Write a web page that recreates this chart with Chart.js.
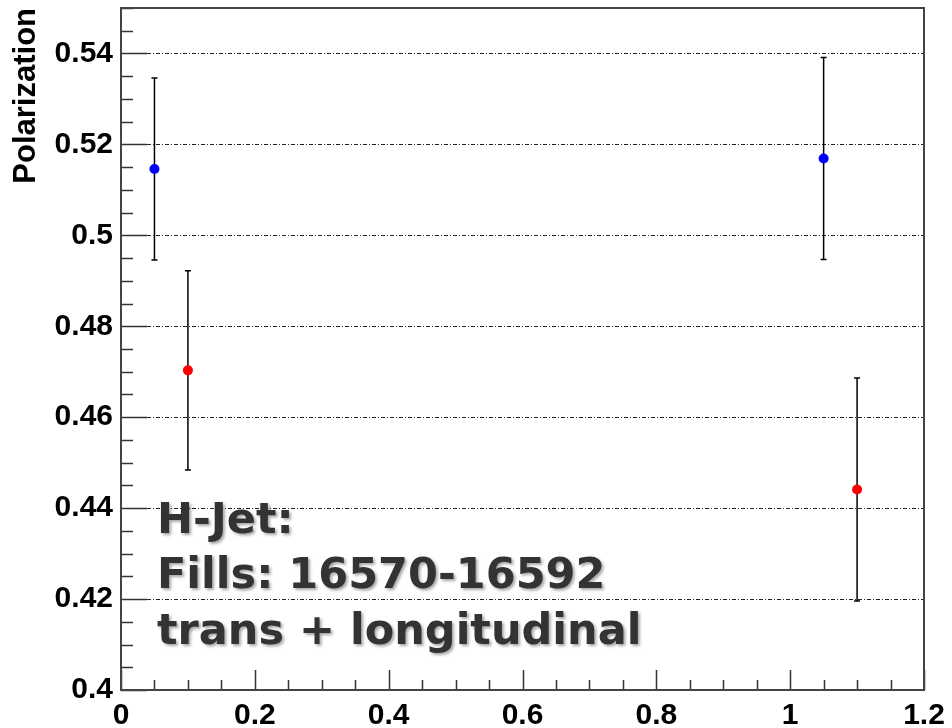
<!DOCTYPE html>
<html>
<head>
<meta charset="utf-8">
<script src="https://cdn.jsdelivr.net/npm/chart.js@4"></script>
<style>
  html, body { margin: 0; padding: 0; background: #fff; }
  canvas { display: block; }
</style>
</head>
<body>
<canvas id="polchart" width="952" height="728"></canvas>
<script>
// measured points (x, polarization, symmetric error)
var blueX = [0.05, 1.05];
var blueY = [0.5146, 0.5169];
var blueErr = [0.0200, 0.0222];

var redX = [0.10, 1.10];
var redY = [0.4703, 0.4441];
var redErr = [0.0219, 0.0245];

var xTicks = [0, 0.2, 0.4, 0.6, 0.8, 1, 1.2];
var yTicks = [0.4, 0.42, 0.44, 0.46, 0.48, 0.5, 0.52, 0.54];
var yMinor = 0.005;
var xMinor = 0.05;

var noteLines = ["H-Jet:", "Fills: 16570-16592", "trans + longitudinal"];

function toPoints(xs, ys, es) {
    return xs.map(function (x, i) { return {x: x, y: ys[i], err: es[i]}; });
}

// frame, inner ticks, dash-dot grid and error bars (ROOT look)
var rootFrame = {
    id: 'rootFrame',
    beforeDatasetsDraw: function (chart) {
        var ctx = chart.ctx, a = chart.chartArea;
        var xs = chart.scales.x, ys = chart.scales.y;
        ctx.save();
        // grid
        ctx.strokeStyle = '#222';
        ctx.lineWidth = 1;
        ctx.setLineDash([4, 2, 1, 2]);
        yTicks.forEach(function (v) {
            if (v <= ys.min || v >= ys.max) return;
            var py = Math.round(ys.getPixelForValue(v)) + 0.5;
            ctx.beginPath();
            ctx.moveTo(a.left + 26, py);
            ctx.lineTo(a.right, py);
            ctx.stroke();
        });
        ctx.setLineDash([]);
        // y ticks
        ctx.strokeStyle = '#333';
        ctx.lineWidth = 1.5;
        for (var v = ys.min; v <= ys.max + 1e-9; v += yMinor) {
            var major = Math.abs(v / 0.02 - Math.round(v / 0.02)) < 1e-6;
            var py = Math.round(ys.getPixelForValue(v)) + 0.5;
            ctx.beginPath();
            ctx.moveTo(a.left, py);
            ctx.lineTo(a.left + (major ? 26 : 12), py);
            ctx.stroke();
        }
        // x ticks
        for (var u = xs.min; u <= xs.max + 1e-9; u += xMinor) {
            var majorX = Math.abs(u / 0.2 - Math.round(u / 0.2)) < 1e-6;
            var px = Math.round(xs.getPixelForValue(u)) + 0.5;
            ctx.beginPath();
            ctx.moveTo(px, a.bottom);
            ctx.lineTo(px, a.bottom - (majorX ? 20 : 10));
            ctx.stroke();
        }
        // error bars
        ctx.strokeStyle = '#000';
        ctx.lineWidth = 1.5;
        chart.data.datasets.forEach(function (ds) {
            ds.data.forEach(function (p) {
                var px = xs.getPixelForValue(p.x);
                var top = ys.getPixelForValue(p.y + p.err);
                var bot = ys.getPixelForValue(p.y - p.err);
                ctx.beginPath();
                ctx.moveTo(px, top); ctx.lineTo(px, bot);
                ctx.moveTo(px - 3, top); ctx.lineTo(px + 3, top);
                ctx.moveTo(px - 3, bot); ctx.lineTo(px + 3, bot);
                ctx.stroke();
            });
        });
        ctx.restore();
    },
    afterDraw: function (chart) {
        var ctx = chart.ctx, a = chart.chartArea;
        ctx.save();
        ctx.strokeStyle = '#444';
        ctx.lineWidth = 2;
        ctx.strokeRect(a.left, a.top, a.right - a.left, a.bottom - a.top);
        // annotation text
        ctx.font = 'bold 43px "Comic Sans MS", "DejaVu Sans", sans-serif';
        ctx.fillStyle = '#333';
        ctx.textBaseline = 'alphabetic';
        ctx.shadowColor = 'rgba(0,0,0,0.35)';
        ctx.shadowOffsetX = 2;
        ctx.shadowOffsetY = 2;
        ctx.shadowBlur = 3;
        var base = [533, 588, 644];
        noteLines.forEach(function (t, i) {
            ctx.fillText(t, a.left + 36, base[i]);
        });
        ctx.restore();
    }
};

var labelFont = { family: 'Liberation Sans, Arial, sans-serif', weight: 'bold', size: 30 };

var ctx = document.getElementById('polchart').getContext('2d');
var chart = new Chart(ctx, {
    type: 'scatter',
    data: {
        datasets: [{
            label: 'blue',
            data: toPoints(blueX, blueY, blueErr),
            backgroundColor: '#0000ff',
            borderColor: '#0000ff',
            pointRadius: 5,
            pointBorderWidth: 0
        }, {
            label: 'red',
            data: toPoints(redX, redY, redErr),
            backgroundColor: '#ff0000',
            borderColor: '#ff0000',
            pointRadius: 5,
            pointBorderWidth: 0
        }]
    },
    options: {
        responsive: false,
        animation: false,
        layout: { padding: { top: 8, right: 28, left: 0, bottom: 0 } },
        plugins: {
            legend: { display: false },
            tooltip: { enabled: false }
        },
        scales: {
            x: {
                type: 'linear',
                min: 0,
                max: 1.2,
                grid: { display: false, drawTicks: false },
                border: { display: false },
                afterBuildTicks: function (s) {
                    s.ticks = xTicks.map(function (v) { return {value: v}; });
                },
                afterFit: function (s) {
                    s.height = 38;
                    s.paddingLeft = 0;
                    s.paddingRight = 0;
                },
                ticks: {
                    padding: 8,
                    color: '#000',
                    font: labelFont,
                    maxRotation: 0,
                    autoSkip: false,
                    callback: function (v) { return String(+v.toFixed(3)); }
                }
            },
            y: {
                type: 'linear',
                min: 0.4,
                max: 0.55,
                grid: { display: false, drawTicks: false },
                border: { display: false },
                afterBuildTicks: function (s) {
                    s.ticks = yTicks.map(function (v) { return {value: v}; });
                },
                afterFit: function (s) {
                    s.width = 121;
                    s.paddingTop = 0;
                    s.paddingBottom = 0;
                },
                title: {
                    display: true,
                    text: 'Polarization',
                    align: 'end',
                    color: '#000',
                    padding: { top: 8, bottom: 0 },
                    font: { family: 'Liberation Sans, Arial, sans-serif', weight: 'bold', size: 31 }
                },
                ticks: {
                    padding: 8,
                    color: '#000',
                    font: labelFont,
                    autoSkip: false,
                    callback: function (v) { return String(+v.toFixed(3)); }
                }
            }
        }
    },
    plugins: [rootFrame]
});
</script>
</body>
</html>
